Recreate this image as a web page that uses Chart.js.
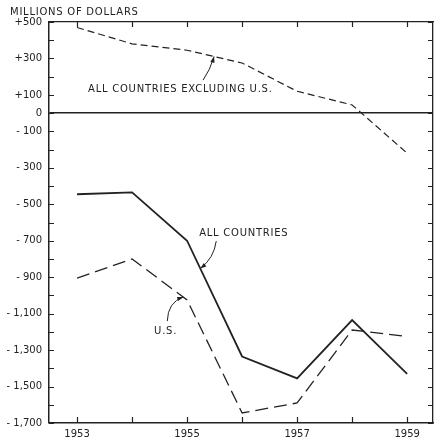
<!DOCTYPE html>
<html>
<head>
<meta charset="utf-8">
<script src="https://cdn.jsdelivr.net/npm/chart.js@4.4.1/dist/chart.umd.min.js"></script>
<style>
  html, body { margin: 0; padding: 0; background: #ffffff; }
  #wrap { width: 434px; height: 438px; }
</style>
</head>
<body>
<div id="wrap"><canvas id="chart" width="434" height="438"></canvas></div>
<script>
// Balance figures, millions of dollars
const years = [1953, 1954, 1955, 1956, 1957, 1958, 1959];
const allCountries = [-445, -435, -700, -1335, -1455, -1135, -1430];
const excludingUS = [470, 380, 345, 275, 120, 45, -220];
const unitedStates = [-905, -800, -1025, -1645, -1590, -1190, -1225];

// Vertical axis: a tick every hundred, labelled on the odd hundreds
const yTickValues = [500, 400, 300, 200, 100, 0, -100, -200, -300, -400, -500, -600, -700,
  -800, -900, -1000, -1100, -1200, -1300, -1400, -1500, -1600, -1700];
const yTickLabels = ['+500', '', '+300', '', '+100', '0', '- 100', '', '- 300', '', '- 500', '',
  '- 700', '', '- 900', '', '- 1,100', '', '- 1,300', '', '- 1,500', '', '- 1,700'];
const xTickLabels = ['1953', '', '1955', '', '1957', '', '1959'];

const INK = '#222222';
const FONT = '"DejaVu Sans", sans-serif';

function toPoints(vals) {
  return years.map((yr, i) => ({ x: yr, y: vals[i] }));
}

// value of a series at a fractional year, along its straight segments
function along(vals, yr) {
  const i = Math.min(Math.max(Math.floor(yr - years[0]), 0), years.length - 2);
  const t = yr - years[i];
  return vals[i] + (vals[i + 1] - vals[i]) * t;
}

const setYTicks = s => { s.ticks = yTickValues.map(v => ({ value: v })); };
const setXTicks = s => { s.ticks = years.map(v => ({ value: v })); };

// short tick marks pointing into the plot from all four frame edges
const innerTicks = {
  id: 'innerTicks',
  afterDatasetsDraw(chart) {
    const { ctx, chartArea: a, scales } = chart;
    ctx.save();
    ctx.strokeStyle = INK;
    ctx.lineWidth = 1.2;
    ctx.beginPath();
    scales.y.ticks.forEach(t => {
      const py = Math.round(scales.y.getPixelForValue(t.value)) + 0.5;
      ctx.moveTo(a.left, py); ctx.lineTo(a.left + 5, py);
      ctx.moveTo(a.right, py); ctx.lineTo(a.right - 5, py);
    });
    scales.x.ticks.forEach(t => {
      const px = Math.round(scales.x.getPixelForValue(t.value)) + 0.5;
      ctx.moveTo(px, a.bottom); ctx.lineTo(px, a.bottom - 6);
      ctx.moveTo(px, a.top); ctx.lineTo(px, a.top + 5);
    });
    ctx.stroke();
    ctx.restore();
  }
};

// curved leader with a small arrowhead
function leader(ctx, x0, y0, cx, cy, x1, y1) {
  ctx.beginPath();
  ctx.moveTo(x0, y0);
  ctx.quadraticCurveTo(cx, cy, x1, y1);
  ctx.stroke();
  const ang = Math.atan2(y1 - cy, x1 - cx);
  const len = 6, w = 2.2;
  ctx.beginPath();
  ctx.moveTo(x1, y1);
  ctx.lineTo(x1 - len * Math.cos(ang) + w * Math.sin(ang), y1 - len * Math.sin(ang) - w * Math.cos(ang));
  ctx.lineTo(x1 - len * Math.cos(ang) - w * Math.sin(ang), y1 - len * Math.sin(ang) + w * Math.cos(ang));
  ctx.closePath();
  ctx.fill();
}

// unit caption and series labels with their leaders
const labelsPlugin = {
  id: 'seriesLabels',
  afterDatasetsDraw(chart) {
    const { ctx, scales: { x, y } } = chart;
    const X = v => x.getPixelForValue(v);
    const Y = v => y.getPixelForValue(v);
    ctx.save();
    ctx.fillStyle = INK;
    ctx.strokeStyle = INK;
    ctx.lineWidth = 1;
    ctx.font = '10px ' + FONT;
    ctx.letterSpacing = '0.75px';
    ctx.textBaseline = 'middle';
    ctx.textAlign = 'left';
    ctx.fillText('MILLIONS OF DOLLARS', 10, 12);

    ctx.fillText('ALL COUNTRIES EXCLUDING U.S.', X(1953.2), Y(132));
    leader(ctx, X(1955.29), Y(181), X(1955.42), Y(236), X(1955.49), Y(along(excludingUS, 1955.49)));

    ctx.fillText('ALL COUNTRIES', X(1955.22), Y(-658));
    leader(ctx, X(1955.53), Y(-702), X(1955.49), Y(-795), X(1955.24), Y(along(allCountries, 1955.24)));

    ctx.fillText('U.S.', X(1954.4), Y(-1196));
    leader(ctx, X(1954.64), Y(-1141), X(1954.65), Y(-1037), X(1954.93), Y(along(unitedStates, 1954.93)));
    ctx.restore();
  }
};

const xRange = { min: 1952.49, max: 1959.47 };
const yRange = { min: -1700, max: 500 };

new Chart(document.getElementById('chart'), {
  type: 'line',
  data: {
    datasets: [
      { label: 'All countries', data: toPoints(allCountries), borderColor: INK, borderWidth: 1.8,
        pointRadius: 0, tension: 0, fill: false },
      { label: 'All countries excluding U.S.', data: toPoints(excludingUS), borderColor: INK,
        borderWidth: 1.2, borderDash: [7, 4], pointRadius: 0, tension: 0, fill: false },
      { label: 'U.S.', data: toPoints(unitedStates), borderColor: INK, borderWidth: 1.3,
        borderDash: [13, 6], pointRadius: 0, tension: 0, fill: false }
    ]
  },
  options: {
    responsive: false,
    animation: false,
    devicePixelRatio: 1,
    layout: { padding: 0 },
    plugins: { legend: { display: false }, tooltip: { enabled: false }, title: { display: false } },
    scales: {
      x: {
        type: 'linear', position: 'bottom', ...xRange,
        afterBuildTicks: setXTicks,
        afterFit: s => { s.height = 15; },
        grid: { display: false, drawTicks: false },
        border: { display: true, color: INK, width: 1.5 },
        ticks: { color: INK, font: { family: FONT, size: 10 }, padding: 5, maxRotation: 0, autoSkip: false,
          callback: (v, i) => xTickLabels[i] }
      },
      xTop: {
        type: 'linear', position: 'top', ...xRange,
        afterBuildTicks: setXTicks,
        afterFit: s => { s.height = 22; },
        grid: { display: false, drawTicks: false },
        border: { display: true, color: INK, width: 1.3 },
        ticks: { display: false }
      },
      y: {
        type: 'linear', position: 'left', ...yRange,
        afterBuildTicks: setYTicks,
        afterFit: s => { s.width = 49; },
        grid: {
          display: true, drawOnChartArea: true, drawTicks: false,
          color: c => (c.tick && c.tick.value === 0 ? INK : 'rgba(0,0,0,0)'),
          lineWidth: c => (c.tick && c.tick.value === 0 ? 1.5 : 0)
        },
        border: { display: true, color: INK, width: 1.5 },
        ticks: { color: INK, font: { family: FONT, size: 10 }, padding: 7, autoSkip: false,
          callback: (v, i) => yTickLabels[i] }
      },
      yRight: {
        type: 'linear', position: 'right', ...yRange,
        afterBuildTicks: setYTicks,
        afterFit: s => { s.width = 1; },
        grid: { display: false, drawTicks: false },
        border: { display: true, color: INK, width: 1.3 },
        ticks: { display: false }
      }
    }
  },
  plugins: [innerTicks, labelsPlugin]
});
</script>
</body>
</html>
